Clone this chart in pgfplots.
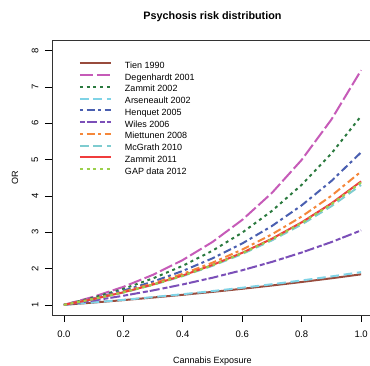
\documentclass[border=0pt]{standalone}
\usepackage{pgfplots}
\pgfplotsset{compat=1.18}
\usepackage{fontspec}
\setmainfont{Liberation Sans}
\definecolor{ctien}{HTML}{984B3C}
\definecolor{cdeg}{HTML}{C65BB8}
\definecolor{czam}{HTML}{2B7A3F}
\definecolor{carse}{HTML}{7FD3E6}
\definecolor{chenq}{HTML}{4A5FB0}
\definecolor{cwiles}{HTML}{7B4FB8}
\definecolor{cmiet}{HTML}{F5873A}
\definecolor{cmcg}{HTML}{7ECCD0}
\definecolor{czam11}{HTML}{F03C3C}
\definecolor{cgap}{HTML}{9BD04A}
\begin{document}
\begin{tikzpicture}
\begin{axis}[
  at={(52pt,51pt)}, anchor=south west,
  scale only axis, width=321pt, height=274.5pt,
  xmin=-0.04, xmax=1.04, ymin=0.72, ymax=8.28,
  xtick={0,0.2,0.4,0.6,0.8,1.0},
  xticklabels={0.0,0.2,0.4,0.6,0.8,1.0},
  ytick={1,2,3,4,5,6,7,8},
  yticklabels={1,2,3,4,5,6,7,8},
  tick align=outside, major tick length=7pt,
  xtick pos=bottom, ytick pos=left,
  tick style={black, line width=0.6pt},
  axis line style={black!80, line width=0.8pt},
  ticklabel style={font=\fontsize{9.5}{10}\selectfont},
  xticklabel style={anchor=center, yshift=-12.5pt},
  yticklabel style={rotate=90, anchor=center, yshift=10pt},
  title={Psychosis risk distribution},
  title style={font=\bfseries\fontsize{10.8}{12}\selectfont, at={(axis description cs:0.5,1)}, anchor=center, yshift=17.5pt},
  xlabel={Cannabis Exposure},
  xlabel style={font=\fontsize{9}{10}\selectfont, at={(axis description cs:0.5,0)}, anchor=center, yshift=-46pt},
  ylabel={OR},
  ylabel style={font=\fontsize{9}{10}\selectfont, at={(axis description cs:0,0.5)}, anchor=center, rotate=0, yshift=37pt},
  legend cell align=left,
  legend image code/.code={\draw[#1] (0pt,2.5pt) -- (31pt,2.5pt);},
  legend style={at={(axis description cs:0.0841,0.9225)}, anchor=north west, draw=none, fill=none, inner sep=0pt, outer sep=0pt,
    font=\fontsize{9}{10}\selectfont, row sep=3.75pt,
    nodes={inner sep=0pt, text height=6.5pt, text depth=1.5pt},
    /tikz/every odd column/.append style={column sep=13pt}},
  every axis plot/.append style={line width=2pt, line cap=butt},
]
\addplot[ctien] coordinates {(0,1) (0.1,1.0629) (0.2,1.1297) (0.3,1.2008) (0.4,1.2763) (0.5,1.3565) (0.6,1.4418) (0.7,1.5325) (0.8,1.6289) (0.9,1.7313) (1.0,1.84)};
\addlegendentry{Tien 1990}
\addplot[cdeg, dash pattern=on 13.5pt off 3.5pt] coordinates {(0,1) (0.1,1.2226) (0.2,1.4948) (0.3,1.8275) (0.4,2.2344) (0.5,2.7313) (0.6,3.3393) (0.7,4.0826) (0.8,4.992) (0.9,6.103) (1.0,7.46)};
\addlegendentry{Degenhardt 2001}
\addplot[czam, dash pattern=on 3pt off 3.7pt] coordinates {(0,1) (0.1,1.2002) (0.2,1.4405) (0.3,1.7289) (0.4,2.0750) (0.5,2.4900) (0.6,2.9885) (0.7,3.5868) (0.8,4.3049) (0.9,5.1668) (1.0,6.20)};
\addlegendentry{Zammit 2002}
\addplot[carse, dash pattern=on 8.7pt off 4.7pt] coordinates {(0,1) (0.1,1.0663) (0.2,1.1370) (0.3,1.2124) (0.4,1.2928) (0.5,1.3784) (0.6,1.4698) (0.7,1.5673) (0.8,1.6712) (0.9,1.7820) (1.0,1.90)};
\addlegendentry{Arseneault 2002}
\addplot[chenq, dash pattern=on 3pt off 3.7pt on 8pt off 3.3pt] coordinates {(0,1) (0.1,1.1792) (0.2,1.3906) (0.3,1.6399) (0.4,1.9338) (0.5,2.2804) (0.6,2.6891) (0.7,3.1711) (0.8,3.7395) (0.9,4.4098) (1.0,5.20)};
\addlegendentry{Henquet 2005}
\addplot[cwiles, dash pattern=on 5pt off 2pt on 10pt off 3pt] coordinates {(0,1) (0.1,1.1180) (0.2,1.2499) (0.3,1.3973) (0.4,1.5622) (0.5,1.7464) (0.6,1.9525) (0.7,2.1828) (0.8,2.4403) (0.9,2.7282) (1.0,3.05)};
\addlegendentry{Wiles 2006}
\addplot[cmiet, dash pattern=on 3pt off 3.7pt on 8pt off 3.3pt] coordinates {(0,1) (0.1,1.1666) (0.2,1.3610) (0.3,1.5878) (0.4,1.8524) (0.5,2.1610) (0.6,2.5211) (0.7,2.9412) (0.8,3.4313) (0.9,4.0031) (1.0,4.67)};
\addlegendentry{Miettunen 2008}
\addplot[cmcg, dash pattern=on 8.7pt off 4.7pt] coordinates {(0,1) (0.1,1.1570) (0.2,1.3387) (0.3,1.5489) (0.4,1.7922) (0.5,2.0736) (0.6,2.3993) (0.7,2.7760) (0.8,3.2119) (0.9,3.7163) (1.0,4.30)};
\addlegendentry{McGrath 2010}
\addplot[czam11] coordinates {(0,1) (0.1,1.1597) (0.2,1.3449) (0.3,1.5596) (0.4,1.8087) (0.5,2.0976) (0.6,2.4326) (0.7,2.8211) (0.8,3.2715) (0.9,3.7940) (1.0,4.40)};
\addlegendentry{Zammit 2011}
\addplot[cgap, dash pattern=on 3pt off 3.7pt] coordinates {(0,1) (0.1,1.1589) (0.2,1.3431) (0.3,1.5565) (0.4,1.8038) (0.5,2.0905) (0.6,2.4226) (0.7,2.8076) (0.8,3.2538) (0.9,3.7708) (1.0,4.37)};
\addlegendentry{GAP data 2012}
\end{axis}
\pgfresetboundingbox
\useasboundingbox (0,0) rectangle (370pt,366pt);
\end{tikzpicture}
\end{document}
